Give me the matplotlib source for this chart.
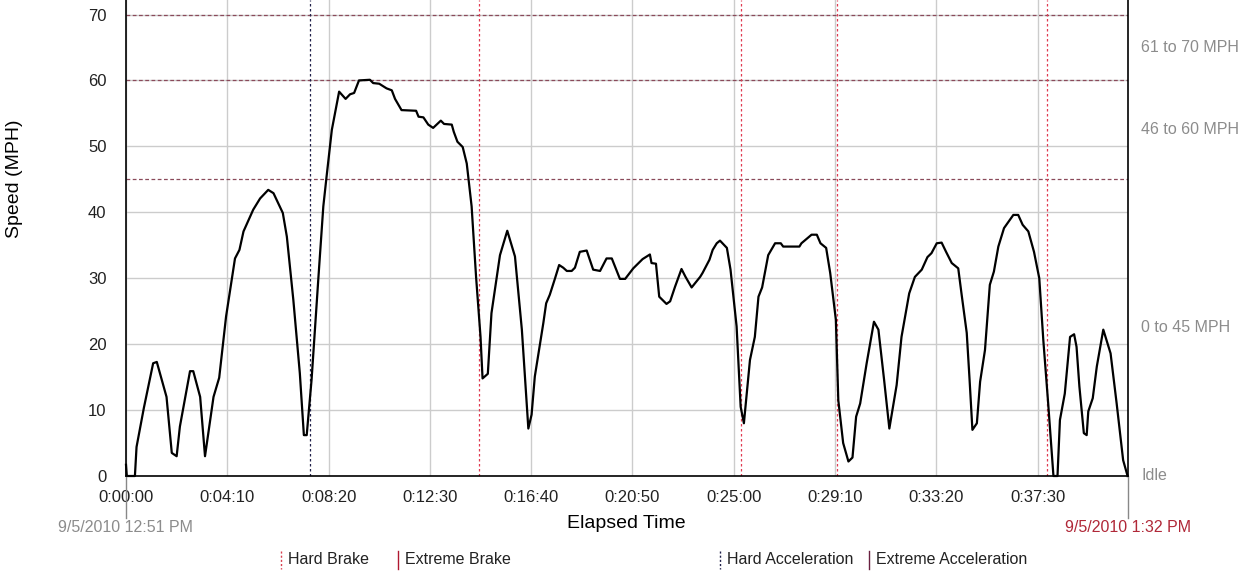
import matplotlib
matplotlib.use("Agg")
import matplotlib.pyplot as plt
from matplotlib.lines import Line2D
import matplotlib.transforms as mtransforms

plt.rcParams['font.family'] = ['Liberation Sans', 'DejaVu Sans']

# elapsed time (seconds) and speed (mph)
elapsed_s = [0, 2, 22, 26, 44, 67, 76, 100, 113, 125, 133, 158, 166, 183, 195, 216, 230, 247,
             269, 280, 290, 314, 331, 351, 364, 387, 397, 413, 429, 439, 446, 458, 475, 487,
             495, 508, 526, 542, 553, 563, 575, 602, 610, 625, 643, 656, 664, 680, 716, 722,
             734, 746, 758, 777, 785, 804, 809, 818, 831, 841, 853, 864, 875, 880, 893, 902,
             923, 941, 960, 977, 993, 1001, 1009, 1030, 1037, 1046, 1059, 1069, 1079, 1088,
             1100, 1108, 1120, 1137, 1153, 1170, 1186, 1199, 1219, 1232, 1252, 1275, 1293,
             1297, 1308, 1316, 1334, 1343, 1355, 1371, 1381, 1396, 1417, 1423, 1440, 1448,
             1458, 1466, 1483, 1492, 1507, 1517, 1525, 1540, 1552, 1561, 1570, 1585, 1602,
             1616, 1622, 1662, 1667, 1692, 1705, 1714, 1728, 1738, 1752, 1758, 1770, 1783,
             1793, 1802, 1812, 1828, 1846, 1857, 1871, 1884, 1902, 1914, 1933, 1947, 1964,
             1978, 1988, 2001, 2013, 2024, 2038, 2054, 2062, 2075, 2082, 2089, 2100, 2108,
             2120, 2132, 2142, 2153, 2167, 2190, 2202, 2213, 2227, 2241, 2254, 2264, 2276,
             2289, 2299, 2305, 2317, 2330, 2340, 2346, 2353, 2364, 2371, 2375, 2386, 2396,
             2412, 2430, 2445, 2461, 2472]
speed = [1.7, 0, 0, 4.4, 10.3, 17.1, 17.3, 12.0, 3.5, 3.0, 7.5, 15.9, 15.9, 12.0, 3.0, 12.0,
         14.9, 24.2, 33.0, 34.3, 37.1, 40.4, 42.1, 43.4, 42.9, 39.9, 36.3, 26.7, 15.6, 6.2,
         6.2, 14.6, 30.2, 40.9, 45.4, 52.5, 58.3, 57.2, 57.9, 58.1, 60.0, 60.1, 59.6, 59.5,
         58.8, 58.5, 57.2, 55.5, 55.4, 54.5, 54.4, 53.3, 52.8, 53.9, 53.4, 53.3, 52.2, 50.7,
         49.9, 47.4, 40.9, 30.2, 21.1, 14.8, 15.5, 24.7, 33.5, 37.2, 33.3, 22.2, 7.2, 9.3,
         15.1, 23.2, 26.2, 27.5, 30.0, 32.0, 31.6, 31.1, 31.1, 31.6, 34.0, 34.2, 31.3, 31.1,
         33.0, 33.0, 29.9, 29.9, 31.5, 32.9, 33.6, 32.3, 32.2, 27.2, 26.1, 26.5, 28.7, 31.4,
         30.2, 28.6, 30.2, 30.8, 32.8, 34.3, 35.3, 35.7, 34.6, 31.3, 22.7, 10.5, 8.0, 17.6,
         21.1, 27.2, 28.6, 33.5, 35.3, 35.3, 34.8, 34.8, 35.3, 36.6, 36.6, 35.3, 34.6, 30.8,
         23.7, 11.5, 5.0, 2.2, 2.8, 9.0, 11.0, 17.1, 23.4, 22.2, 14.6, 7.2, 13.8, 21.1, 27.7,
         30.2, 31.3, 33.2, 33.8, 35.3, 35.4, 34.0, 32.3, 31.5, 27.7, 21.7, 14.6, 7.0, 8.0,
         14.3, 19.1, 29.0, 31.0, 34.8, 37.6, 39.6, 39.6, 38.1, 37.1, 34.0, 30.0, 20.6, 11.0,
         0, 0, 8.5, 12.5, 21.1, 21.5, 19.6, 13.6, 6.5, 6.2, 9.8, 11.8, 16.6, 22.2, 18.6,
         11.0, 2.4, 0]

trip_end_s = 2473
hard_accel_s = [454]
hard_brake_s = [871, 1518, 1755, 2273]
band_limits = [45, 60, 70]
band_labels = ['61 to 70 MPH', '46 to 60 MPH', '0 to 45 MPH', 'Idle']
band_label_y = [65, 52.5, 22.5, 0]
start_label = '9/5/2010 12:51 PM'
end_label = '9/5/2010 1:32 PM'


def fmt_time(s, pos=None):
    s = int(round(s))
    return '%d:%02d:%02d' % (s // 3600, (s % 3600) // 60, s % 60)


fig = plt.figure(figsize=(12.5, 5.85), dpi=100)
ax = fig.add_axes([126 / 1250, 1 - 476 / 585, 1002 / 1250, 476 / 585])

ax.set_xlim(0, trip_end_s)
ax.set_ylim(0, 72.2)
ax.set_xticks(range(0, 2251, 250))
ax.xaxis.set_major_formatter(plt.FuncFormatter(fmt_time))
ax.set_yticks(range(0, 71, 10))
ax.grid(True, color='#cccccc', linewidth=1.0)
ax.set_axisbelow(True)
ax.tick_params(length=0, labelsize=12, colors='#222222')
ax.tick_params(axis='y', pad=14)
ax.tick_params(axis='x', pad=10)
ax.spines['top'].set_visible(False)
for sp in ['left', 'bottom', 'right']:
    ax.spines[sp].set_color('black')
    ax.spines[sp].set_linewidth(1.2)

for lim in band_limits:
    ax.axhline(lim, color='#8a4a5a', linestyle=(0, (3, 2)), linewidth=0.9)

for t in hard_accel_s:
    ax.axvline(t, color='#20204a', linestyle=(0, (2, 2)), linewidth=0.9)
for t in hard_brake_s:
    ax.axvline(t, color='#e03a50', linestyle=(0, (2, 2)), linewidth=0.9)

ax.plot(elapsed_s, speed, color='black', linewidth=1.6, clip_on=False)

# band labels on the right
trans = mtransforms.blended_transform_factory(ax.transAxes, ax.transData)
for lab, yv in zip(band_labels, band_label_y):
    ax.text(1.013, yv, lab, transform=trans, ha='left', va='center',
            fontsize=11.5, color='#8c8c8c')

# start / end markers below the axis
for xv in [0, trip_end_s]:
    ax.axvline(xv, ymin=-0.088, ymax=0, color='#888888', linewidth=1.0, clip_on=False)
fig.text(126 / 1250, 1 - 528 / 585, start_label, ha='center', va='center',
         fontsize=11.5, color='#8c8c8c')
fig.text(1128 / 1250, 1 - 528 / 585, end_label, ha='center', va='center',
         fontsize=11.5, color='#b02838')

fig.text(626 / 1250, 1 - 523 / 585, 'Elapsed Time', ha='center', va='center',
         fontsize=14, color='black')
fig.text(15 / 1250, 1 - 179 / 585, 'Speed (MPH)', ha='center', va='center',
         rotation=90, fontsize=14, color='black')

# legend along the bottom
legend_items = [
    (281, 'Hard Brake', '#d84050', (0, (1.5, 1.5))),
    (398, 'Extreme Brake', '#b01830', '-'),
    (720, 'Hard Acceleration', '#20204a', (0, (1.5, 1.5))),
    (869, 'Extreme Acceleration', '#6a2040', '-'),
]
for xp, lab, col, ls in legend_items:
    fig.add_artist(Line2D([xp / 1250, xp / 1250], [1 - 551 / 585, 1 - 569 / 585],
                          color=col, linestyle=ls, linewidth=1.0))
    fig.text((xp + 7) / 1250, 1 - 560 / 585, lab, ha='left', va='center',
             fontsize=11.5, color='#222222')

fig.savefig('out.png', dpi=100)
